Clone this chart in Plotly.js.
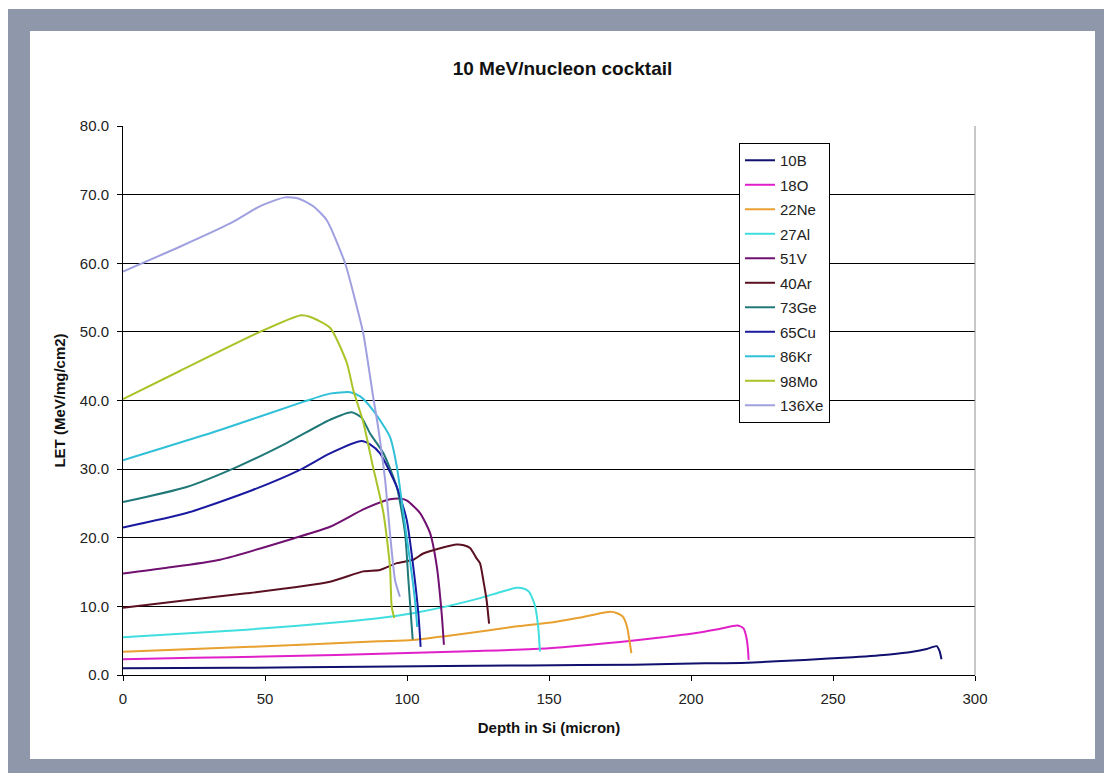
<!DOCTYPE html>
<html>
<head>
<meta charset="utf-8">
<script src="https://cdn.plot.ly/plotly-3.0.1.min.js"></script>
<style>
  html, body { margin: 0; padding: 0; background: #ffffff; }
  #frame { position: absolute; left: 8px; top: 9px; width: 1096px; height: 764px; background: #8f98aa; }
  #chart { position: absolute; left: 30px; top: 31px; width: 1065px; height: 728px; background: #ffffff; }
</style>
</head>
<body>
<div id="frame"></div>
<div id="chart"></div>
<script>
// Series names (legend order)
const names = ["10B", "18O", "22Ne", "27Al", "51V", "40Ar", "73Ge", "65Cu", "86Kr", "98Mo", "136Xe"];
const colors = ["#10106e", "#e020c8", "#e8a030", "#40dede", "#701070", "#5a1020", "#207878", "#1a1aa0", "#30c0d8", "#a8c428", "#a0a0e0"];

// Depth in Si (micron) and LET (MeV/mg/cm2) per ion
const x_10B = [0, 40, 85, 143, 180, 205, 220, 240, 257, 270, 278, 283, 286.5, 287.5, 288.2];
const y_10B = [1.0, 1.05, 1.2, 1.4, 1.5, 1.7, 1.8, 2.2, 2.6, 3.0, 3.4, 3.8, 4.2, 3.5, 2.3];

const x_18O = [0, 25, 50, 75, 100, 125, 150, 175, 190, 200, 210, 216.3, 218.5, 219.5, 220, 220.3];
const y_18O = [2.3, 2.5, 2.7, 2.9, 3.2, 3.5, 3.9, 4.8, 5.5, 6.0, 6.7, 7.2, 6.8, 5.5, 4.0, 2.2];

const x_22Ne = [0, 45, 90, 102, 120, 137, 150, 160, 167, 171.5, 174, 176, 177.5, 178.3, 179];
const y_22Ne = [3.4, 4.1, 4.9, 5.1, 6.0, 7.0, 7.6, 8.3, 8.9, 9.2, 9.0, 8.5, 7.0, 5.1, 3.2];

const x_27Al = [0, 43.5, 78.8, 90.5, 102, 114, 125.7, 133, 138.6, 141, 143, 145, 146.2, 146.8];
const y_27Al = [5.5, 6.6, 7.8, 8.3, 9.0, 10.0, 11.2, 12.1, 12.7, 12.6, 12.1, 10.2, 7.0, 3.4];

const x_51V = [0, 15, 34.2, 60, 72.9, 85, 94, 98, 100, 104.6, 108.1, 110.5, 112.2, 113];
const y_51V = [14.8, 15.6, 16.8, 19.9, 21.6, 24.2, 25.6, 25.7, 25.4, 23.6, 20.7, 15.8, 9.0, 4.4];

const x_40Ar = [0, 20, 43.5, 72.9, 84.6, 90.5, 96.4, 102.2, 105.7, 112, 117.5, 120, 122.2, 124.5, 125.7, 127, 128, 128.9];
const y_40Ar = [9.8, 10.8, 11.9, 13.6, 15.1, 15.3, 16.3, 16.8, 17.7, 18.5, 19.0, 18.9, 18.5, 17.0, 16.3, 13.5, 11.0, 7.5];

const x_73Ge = [0, 22.4, 40, 57.6, 72.9, 80.5, 84, 87, 91.7, 96.4, 99.3, 100.5, 101.5, 102];
const y_73Ge = [25.2, 27.4, 30.3, 33.8, 37.2, 38.3, 37.5, 35.2, 32.3, 27.4, 20.7, 13.8, 8.0, 5.2];

const x_65Cu = [0, 22.4, 45.9, 62.3, 72.9, 84, 87, 90.5, 96.4, 99.9, 102.2, 104, 104.8];
const y_65Cu = [21.5, 23.6, 27.0, 29.9, 32.3, 34.1, 33.6, 32.3, 27.4, 22.6, 15.8, 9.0, 4.1];

const x_86Kr = [0, 34.2, 63.4, 72.9, 80, 83.5, 88, 94, 96.4, 98.7, 101, 102.8, 103.6];
const y_86Kr = [31.3, 35.7, 39.8, 41.0, 41.2, 40.6, 38.6, 34.7, 30.4, 23.6, 16.8, 10.9, 7.0];

const x_98Mo = [0, 20, 48.2, 62.3, 65.8, 72.9, 78.8, 81.1, 84.5, 88, 91.7, 94, 94.6, 95.5];
const y_98Mo = [40.2, 44.3, 50.0, 52.4, 52.2, 50.6, 45.5, 41.5, 37.0, 30.4, 23.6, 15.8, 10.0, 8.3];

const x_136Xe = [0, 20, 37.7, 48.2, 57, 62, 67, 71.7, 78.2, 82.3, 84.6, 88.1, 89.8, 92.3, 94, 95.8, 97.5];
const y_136Xe = [58.8, 62.4, 65.8, 68.3, 69.6, 69.4, 68.3, 66.3, 60.0, 53.7, 49.8, 40.5, 36.2, 28.4, 20.7, 13.8, 11.4];

const xs = [x_10B, x_18O, x_22Ne, x_27Al, x_51V, x_40Ar, x_73Ge, x_65Cu, x_86Kr, x_98Mo, x_136Xe];
const ys = [y_10B, y_18O, y_22Ne, y_27Al, y_51V, y_40Ar, y_73Ge, y_65Cu, y_86Kr, y_98Mo, y_136Xe];

const yTicks = [0, 10, 20, 30, 40, 50, 60, 70, 80];
const xTicks = [0, 50, 100, 150, 200, 250, 300];

const FONT = "Arial, 'Liberation Sans', sans-serif";

const traces = names.map((n, i) => ({
  type: "scatter",
  mode: "lines",
  name: n,
  legendgroup: "g" + i,
  x: xs[i],
  y: ys[i],
  line: { color: colors[i], width: 2, shape: "spline", smoothing: 0.6 }
}));

const layout = {
  width: 1065,
  height: 728,
  paper_bgcolor: "#ffffff",
  plot_bgcolor: "#ffffff",
  margin: { l: 93, r: 120, t: 95, b: 84 },
  font: { family: FONT, size: 15, color: "#222222" },
  title: {
    text: "<b>10 MeV/nucleon cocktail</b>",
    font: { family: FONT, size: 19, color: "#111111" },
    x: 0.5, xref: "container", xanchor: "center",
    y: 0.949, yref: "container", yanchor: "middle"
  },
  xaxis: {
    range: [0, 300],
    tickvals: xTicks,
    ticktext: xTicks.map(String),
    showgrid: false,
    zeroline: false,
    showline: true,
    linecolor: "#000000",
    linewidth: 1,
    ticks: "outside",
    ticklen: 5,
    ticklabelstandoff: 5,
    tickcolor: "#000000",
    tickfont: { family: FONT, size: 15, color: "#222222" },
    title: { text: "<b>Depth in Si (micron)</b>", font: { family: FONT, size: 15, color: "#111111" }, standoff: 16 }
  },
  yaxis: {
    range: [0, 80],
    tickvals: yTicks,
    ticktext: yTicks.map(v => v.toFixed(1)),
    showgrid: true,
    gridcolor: "#000000",
    gridwidth: 1,
    zeroline: false,
    showline: true,
    linecolor: "#000000",
    linewidth: 1,
    ticks: "outside",
    ticklen: 5,
    ticklabelstandoff: 5,
    tickcolor: "#000000",
    tickfont: { family: FONT, size: 15, color: "#222222" },
    title: { text: "<b>LET (MeV/mg/cm2)</b>", font: { family: FONT, size: 15, color: "#111111" }, standoff: 10 }
  },
  shapes: [
    { type: "line", xref: "paper", yref: "paper", x0: 1, x1: 1, y0: 0, y1: 1, line: { color: "#909090", width: 1 } }
  ],
  legend: {
    x: 0.723, xanchor: "left",
    y: 0.969, yanchor: "top",
    bgcolor: "#ffffff",
    bordercolor: "#000000",
    borderwidth: 1,
    tracegroupgap: 2,
    itemwidth: 30,
    font: { family: FONT, size: 15, color: "#222222" }
  },
  showlegend: true
};

Plotly.newPlot("chart", traces, layout, { displayModeBar: false, staticPlot: true });
</script>
</body>
</html>
